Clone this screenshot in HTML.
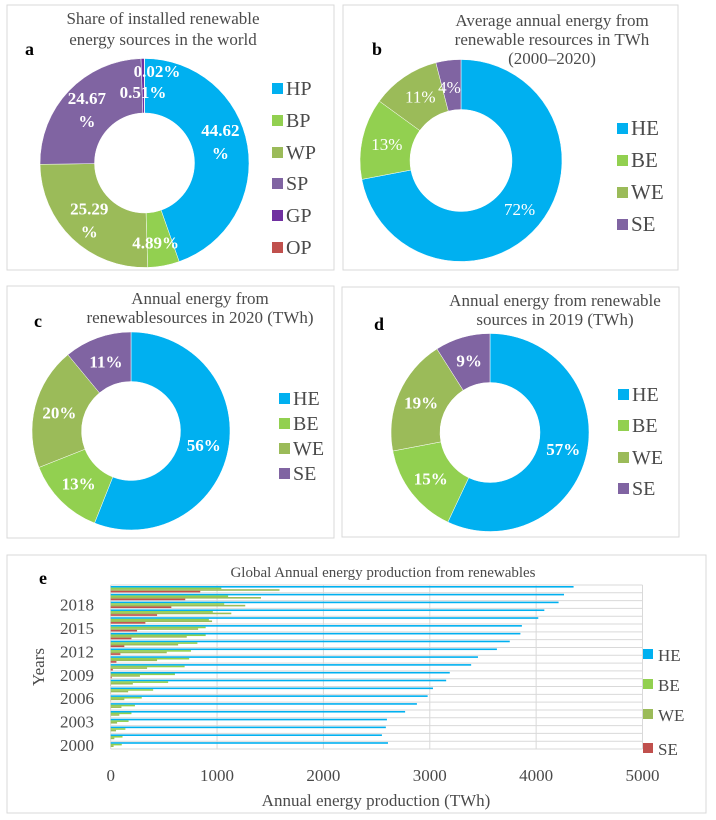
<!DOCTYPE html>
<html><head><meta charset="utf-8"><style>
body{margin:0;background:#fff;width:716px;height:820px;overflow:hidden;font-family:"Liberation Serif",serif;}
svg{display:block}
</style></head><body>
<svg id="root" width="716" height="820" viewBox="0 0 716 820" xmlns="http://www.w3.org/2000/svg" font-family="Liberation Serif, serif">
<rect x="7" y="5" width="327" height="265" fill="#fff" stroke="#d9d9d9"/>
<rect x="343" y="5" width="335" height="265" fill="#fff" stroke="#d9d9d9"/>
<rect x="7" y="286" width="327" height="252" fill="#fff" stroke="#d9d9d9"/>
<rect x="342" y="287" width="337" height="250" fill="#fff" stroke="#d9d9d9"/>
<rect x="7" y="555" width="699" height="258" fill="#fff" stroke="#d9d9d9"/>

<g fill="#4a4a4a" font-size="17" text-anchor="middle">
<text x="163" y="24">Share of installed renewable</text>
<text x="163" y="45">energy sources in the world</text>
<text x="552" y="26">Average annual energy from</text>
<text x="552" y="45">renewable resources in TWh</text>
<text x="552" y="64">(2000–2020)</text>
<text x="200" y="304">Annual energy from</text>
<text x="200" y="323">renewablesources in 2020 (TWh)</text>
<text x="555" y="306">Annual energy from renewable</text>
<text x="555" y="325">sources in 2019 (TWh)</text>
<text x="383" y="577" font-size="15">Global Annual energy production from renewables</text>
</g>
<g font-weight="bold" font-size="18" fill="#000">
<text x="25" y="55">a</text>
<text x="372" y="55">b</text>
<text x="34" y="327">c</text>
<text x="374" y="330">d</text>
<text x="39" y="584">e</text>
</g>
<g id="donuts"></g>
<g id="bars"></g>
</svg>
<script>
const NS="http://www.w3.org/2000/svg";
const C={HE:"#00b0f0",BE:"#92d050",WE:"#9bbb59",SE:"#8064a2",SEbar:"#c0504d",GP:"#7030a0",OP:"#c0504d"};
// Donut data
const aLabels=["HP","BP","WP","SP","GP","OP"];
const aValues=[44.62,4.89,25.29,24.67,0.51,0.02];
const bLabels=["HE","BE","WE","SE"];
const bValues=[72,13,11,4];
const cValues=[56,13,20,11];
const dValues=[57,15,19,9];
// Bar chart data (2000..2020)
const years=[2000,2001,2002,2003,2004,2005,2006,2007,2008,2009,2010,2011,2012,2013,2014,2015,2016,2017,2018,2019,2020];
const heVals=[2607,2550,2587,2597,2768,2879,2980,3030,3154,3188,3389,3453,3631,3752,3852,3866,4020,4077,4211,4262,4352];
const beVals=[104,111,138,168,195,228,292,399,540,604,695,738,755,815,893,893,923,960,1067,1104,1040];
const weVals=[27,34,50,60,81,101,128,164,208,275,342,436,527,634,715,822,953,1134,1265,1413,1587];
const seVals=[0,0,0,0,1,1,1,1,2,10,20,54,91,128,195,248,326,436,570,701,842];
const xTicks=[0,1000,2000,3000,4000,5000];
const yTickYears=[2000,2003,2006,2009,2012,2015,2018];
const TXT="#4a4a4a";

function el(tag,attrs,parent){const e=document.createElementNS(NS,tag);for(const k in attrs)e.setAttribute(k,attrs[k]);parent.appendChild(e);return e;}
const dg=document.getElementById('donuts');
function pt(cx,cy,r,a){return [cx+r*Math.sin(a),cy-r*Math.cos(a)];}
function donut(name,cx,cy,r,ri,vals,labels,colors,opts){
  const g=el('g',{},dg);
  
  
  const tot=vals.reduce((s,v)=>s+v,0);let a0=0;
  vals.forEach((v,i)=>{
    const a1=a0+v/tot*2*Math.PI;const large=(a1-a0)>Math.PI?1:0;
    const p0=pt(cx,cy,r,a0),p1=pt(cx,cy,r,a1),q1=pt(cx,cy,ri,a1),q0=pt(cx,cy,ri,a0);
    const p=el('path',{d:`M${p0[0]},${p0[1]}A${r},${r} 0 ${large} 1 ${p1[0]},${p1[1]}L${q1[0]},${q1[1]}A${ri},${ri} 0 ${large} 0 ${q0[0]},${q0[1]}Z`,fill:colors[i],stroke:'#fff','stroke-width':0.5},g);
    
    
    a0=a1;
  });
  labels.forEach((l,i)=>{
    const y=opts.ly[i];
    const s=el('rect',{x:opts.lx,y:y-5,width:11,height:11,fill:colors[i]},g);
    
    
    const t=el('text',{x:opts.lx+14,y:y+7,'font-size':opts.lfs,fill:TXT},g);
    t.textContent=l;
    
    
  });
  return g;
}
function label(g,x,y,lines,bold,fs){
  lines.forEach((s,j)=>{
    const t=el('text',{x:x,y:y+j*23,'text-anchor':'middle','font-size':fs,fill:'#fff','font-weight':bold?'bold':'normal'},g);
    t.textContent=s;
    
    
  });
}
function midPos(cx,cy,rm,vals,i){const tot=vals.reduce((s,v)=>s+v,0);let c=0;for(let k=0;k<i;k++)c+=vals[k];const a=(c+vals[i]/2)/tot*2*Math.PI;return pt(cx,cy,rm,a);}

// a
const ga=donut('donut-a',144.5,163,104.5,50,aValues,aLabels,[C.HE,C.BE,C.WE,C.SE,C.GP,C.OP],{lx:272,ly:[88,120,152,183,215,247],lfs:20});
let p=midPos(144.5,163,77,aValues,0);label(ga,p[0],p[1]-14,[aValues[0]+'',"%"],true,17);
p=midPos(144.5,163,77,aValues,1);label(ga,p[0]-3,p[1]+10,[aValues[1]+'%'],true,17);
p=midPos(144.5,163,77,aValues,2);label(ga,p[0]-2,p[1]-4,[aValues[2]+'',"%"],true,17);
p=midPos(144.5,163,77,aValues,3);label(ga,p[0]-2,p[1]-6,[aValues[3]+'',"%"],true,17);
label(ga,143,98,[aValues[4]+'%'],true,17);
label(ga,157,77,[aValues[5]+'%'],true,17);
// b
const cols4=[C.HE,C.BE,C.WE,C.SE];
const gb=donut('donut-b',461,160.5,101,51,bValues,bLabels,cols4,{lx:617,ly:[128,160,192,224],lfs:21});
[[0,0,6],[1,0,6],[2,2,5],[3,-2,8]].forEach(([i,dx,dy])=>{const q=midPos(461,160.5,76,bValues,i);label(gb,q[0]+dx,q[1]+dy,[bValues[i]+'%'],false,17);});
// c
const gc=donut('donut-c',131,431,99,49.5,cValues,bLabels,cols4,{lx:279,ly:[398,423,448,473],lfs:20});
cValues.forEach((v,i)=>{const q=midPos(131,431,74,cValues,i);label(gc,q[0],q[1]+6,[v+'%'],true,17);});
// d
const gd=donut('donut-d',490,432.5,99,50,dValues,bLabels,cols4,{lx:618,ly:[394,425,457,488],lfs:20});
dValues.forEach((v,i)=>{const q=midPos(490,432.5,75,dValues,i);label(gd,q[0],q[1]+6,[v+'%'],true,17);});

// Bar chart
const bg=document.getElementById('bars');
const X0=110.7,X1=642.5,Y0=585,Y1=749,XMAX=5000;
const xs=v=>X0+v/XMAX*(X1-X0);
const rowH=(Y1-Y0)/years.length;
const rowTop=i=>Y1-(i+1)*rowH;
for(let i=0;i<=years.length;i++){
  const y=Y0+i*rowH;
  const l=el('line',{x1:X0,x2:X1,y1:y,y2:y,stroke:'#d9d9d9','stroke-width':1},bg);
  
  
}
xTicks.forEach(t=>{
  const l=el('line',{x1:xs(t),x2:xs(t),y1:Y0,y2:Y1,stroke:'#d9d9d9','stroke-width':1},bg);
  
  
  const tx=el('text',{x:xs(t),y:781,'text-anchor':'middle','font-size':17,fill:TXT},bg);
  tx.textContent=t;
  
  
});
const series=[[heVals,C.HE],[beVals,C.BE],[weVals,C.WE],[seVals,C.SEbar]];
const names=['he','be','we','se'];
years.forEach((yr,i)=>{
  const top=rowTop(i);
  series.forEach(([vals,col],k)=>{
    const r=el('rect',{x:X0,y:top+1+k*1.6,width:Math.max(0,xs(vals[i])-X0),height:1.6,fill:col},bg);
    
    
  });
});
yTickYears.forEach(yr=>{
  const i=years.indexOf(yr);
  const t=el('text',{x:94,y:rowTop(i)+rowH/2+6,'text-anchor':'end','font-size':17,fill:TXT},bg);
  t.textContent=yr;
  
  
});
const yt=el('text',{x:0,y:0,'text-anchor':'middle','font-size':17,fill:TXT,transform:'translate(44,667) rotate(-90)'},bg);
yt.textContent='Years';


const xt=el('text',{x:376,y:806,'text-anchor':'middle','font-size':17,fill:TXT},bg);
xt.textContent='Annual energy production (TWh)';


const legY=[654,684,714,748];const legN=['HE','BE','WE','SE'];
legN.forEach((n,k)=>{
  const s=el('rect',{x:643,y:legY[k]-5,width:10,height:10,fill:series[k][1]},bg);
  
  
  const t=el('text',{x:658,y:legY[k]+7,'font-size':17,fill:TXT},bg);
  t.textContent=n;
  
  
});
</script>
</body></html>
